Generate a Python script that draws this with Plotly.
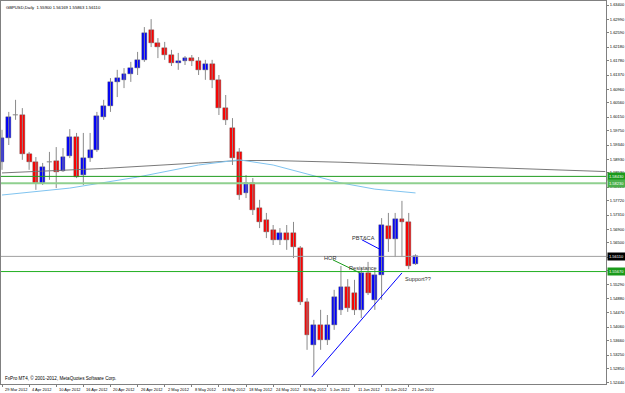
import plotly.graph_objects as go
import pandas as pd

# ---------------- data ----------------
dates = pd.bdate_range("2012-03-29", "2012-06-22")  # 62 daily bars

open_ = [1.5885, 1.5954, 1.6021, 1.6021, 1.5908, 1.5885, 1.5824, 1.5885, 1.5888, 1.5859,
         1.5902, 1.5957, 1.5847, 1.5896, 1.5920, 1.6015, 1.6047, 1.6117, 1.6123, 1.6140,
         1.6157, 1.6181, 1.6268, 1.6230, 1.6215, 1.6195, 1.6172, 1.6178, 1.6186, 1.6178,
         1.6152, 1.6169, 1.6123, 1.6041, 1.5983, 1.5914, 1.5795, 1.5824, 1.5751, 1.5717,
         1.5688, 1.5659, 1.5679, 1.5679, 1.5635, 1.5479, 1.5354, 1.5412, 1.5369, 1.5412,
         1.5456, 1.5522, 1.5505, 1.5456, 1.5563, 1.5485, 1.5557, 1.5699, 1.5661, 1.5719,
         1.5711, 1.55900]
high = [1.5978, 1.6030, 1.6065, 1.6041, 1.5914, 1.5899, 1.5882, 1.5914, 1.5928, 1.5925,
        1.5980, 1.5969, 1.5969, 1.5969, 1.6030, 1.6065, 1.6128, 1.6152, 1.6157, 1.6175,
        1.6204, 1.6276, 1.6299, 1.6244, 1.6233, 1.6210, 1.6201, 1.6192, 1.6195, 1.6189,
        1.6181, 1.6181, 1.6137, 1.6079, 1.6012, 1.5925, 1.5847, 1.5838, 1.5775, 1.5737,
        1.5702, 1.5693, 1.5702, 1.5711, 1.5641, 1.5490, 1.5427, 1.5456, 1.5441, 1.5514,
        1.5583, 1.5545, 1.5543, 1.5577, 1.5595, 1.5572, 1.5722, 1.5737, 1.5737, 1.5772,
        1.5737, 1.56169]
low = [1.5862, 1.5934, 1.6007, 1.5891, 1.5862, 1.5804, 1.5818, 1.5833, 1.5809, 1.5856,
       1.5896, 1.5838, 1.5818, 1.5885, 1.5914, 1.6007, 1.6030, 1.6073, 1.6099, 1.6117,
       1.6137, 1.6175, 1.6218, 1.6186, 1.6181, 1.6163, 1.6152, 1.6166, 1.6163, 1.6137,
       1.6123, 1.6099, 1.6021, 1.5992, 1.5876, 1.5775, 1.5780, 1.5731, 1.5693, 1.5664,
       1.5644, 1.5644, 1.5630, 1.5606, 1.5470, 1.5340, 1.5267, 1.5340, 1.5354, 1.5398,
       1.5441, 1.5450, 1.5441, 1.5432, 1.5499, 1.5456, 1.5485, 1.5624, 1.5609, 1.5609,
       1.5574, 1.55863]
close = [1.5954, 1.6015, 1.6022, 1.5908, 1.5885, 1.5824, 1.5870, 1.5886, 1.5856, 1.5899,
         1.5957, 1.5841, 1.5896, 1.5920, 1.6018, 1.6047, 1.6117, 1.6128, 1.6140, 1.6157,
         1.6181, 1.6259, 1.6230, 1.6218, 1.6195, 1.6172, 1.6178, 1.6186, 1.6178, 1.6152,
         1.6169, 1.6123, 1.6041, 1.6007, 1.5896, 1.5789, 1.5824, 1.5746, 1.5711, 1.5682,
         1.5659, 1.5679, 1.5659, 1.5638, 1.5479, 1.5383, 1.5412, 1.5369, 1.5412, 1.5493,
         1.5522, 1.5461, 1.5456, 1.5563, 1.5505, 1.5557, 1.5702, 1.5661, 1.5719, 1.5711,
         1.5583, 1.56110]

# moving averages (vertices, by bar number)
fast_ma_bars = [0, 10, 20, 29, 35, 40, 45, 50, 55, 61]
fast_ma = [1.5789, 1.5809, 1.5841, 1.5876, 1.5891, 1.5876, 1.5850, 1.5824, 1.5806, 1.5795]
slow_ma_bars = [0, 15, 29, 35, 40, 50, 61, 75, 89]
slow_ma = [1.5853, 1.5866, 1.5882, 1.5889, 1.5889, 1.5884, 1.5876, 1.5866, 1.5857]

# horizontal objects
level_upper = 1.5843
level_upper2 = 1.5823
level_support = 1.5567
bid_price = 1.56110

# right axis scale labels
price_ticks = ["1.52440", "1.52850", "1.53250", "1.53660", "1.54060", "1.54470", "1.54880",
               "1.55290", "1.55690", "1.56090", "1.56500", "1.56900", "1.57310", "1.57720",
               "1.58120", "1.58530", "1.58930", "1.59340", "1.59750", "1.60150", "1.60560",
               "1.60960", "1.61370", "1.61780", "1.62180", "1.62590", "1.62990", "1.63400"]

# drawn objects: (bar, price) pairs
trend_line = [(45.7, 1.5261), (59.0, 1.5563)]
pbt_line = [(53.1, 1.5659), (55.7, 1.5632)]
hor_line = [(48.8, 1.5601), (52.8, 1.5563)]
texts = [("PBT&CA", 51.3, 1.5664), ("HOR", 47.2, 1.5606),
         ("Resistance", 50.9, 1.5577), ("Support??", 59.1, 1.5545)]

title = "GBPUSD,Daily  1.55900 1.56169 1.55863 1.56110"
footer = "FxPro MT4, \u00a9 2001-2012, MetaQuotes Software Corp."

# ---------------- figure ----------------
FONT = "Liberation Sans"
idx = list(range(len(open_)))
fig = go.Figure()

# slow MA (dark grey) and fast MA (light blue)
fig.add_trace(go.Scatter(x=slow_ma_bars, y=slow_ma, mode="lines",
                         line=dict(color="#6a6a6a", width=0.9), hoverinfo="skip"))
fig.add_trace(go.Scatter(x=fast_ma_bars, y=fast_ma, mode="lines",
                         line=dict(color="#80c4f0", width=1), hoverinfo="skip"))

# wicks
wx, wy = [], []
for i, h, l in zip(idx, high, low):
    wx += [i, i, None]
    wy += [l, h, None]
fig.add_trace(go.Scatter(x=wx, y=wy, mode="lines", line=dict(color="#8a8a8a", width=1),
                         hoverinfo="skip"))

# bodies
base = [min(o, c) for o, c in zip(open_, close)]
height = [max(abs(c - o), 0.00006) for o, c in zip(open_, close)]
cols = ["#0000ff" if c > o else ("#ff0000" if c < o else "#202020")
        for o, c in zip(open_, close)]
fig.add_trace(go.Bar(x=idx, base=base, y=height, width=0.72,
                     marker=dict(color=cols, line=dict(color="#505050", width=0.4)),
                     hoverinfo="skip"))

shapes = []
for val, col, w in [(level_upper, "#1f9b1f", 1), (level_upper2, "#8fd08f", 2),
                    (level_support, "#22b022", 1), (bid_price, "#a0a0a0", 1)]:
    shapes.append(dict(type="line", xref="paper", x0=0, x1=1, y0=val, y1=val,
                       line=dict(color=col, width=w)))
for (p0, p1), col in [(trend_line, "#0000ff"), (pbt_line, "#0000ff"), (hor_line, "#1a9a1a")]:
    shapes.append(dict(type="line", x0=p0[0], y0=p0[1], x1=p1[0], y1=p1[1],
                       line=dict(color=col, width=1)))

ann = []
for t, x, y in texts:
    ann.append(dict(x=x, y=y, text=t, showarrow=False, xanchor="left", yanchor="middle",
                    font=dict(family=FONT, size=5.6, color="#303030")))
ann.append(dict(xref="paper", yref="paper", x=0, y=1, xshift=3, yshift=-2, text=title,
                showarrow=False, xanchor="left", yanchor="top",
                font=dict(family=FONT, size=4.2, color="#000000")))
ann.append(dict(xref="paper", yref="paper", x=0, y=0, xshift=2, yshift=1, text=footer,
                showarrow=False, xanchor="left", yanchor="bottom",
                font=dict(family=FONT, size=4.6, color="#000000")))
# date labels every 4 bars
label_bars = list(range(0, len(dates), 4))
for i in label_bars:
    d = dates[i]
    ann.append(dict(x=i, xref="x", yref="paper", y=0, yshift=-1, xshift=1,
                    text=f"{d.day} {d.strftime('%b %Y')}", showarrow=False,
                    xanchor="left", yanchor="top",
                    font=dict(family=FONT, size=4, color="#000000")))
# price boxes on right axis
for val, txt, bg in [(level_upper, "1.58430", "#1a9a1a"), (level_upper2, "1.58230", "#4cb04c"),
                     (bid_price, "1.56110", "#000000"), (level_support, "1.55670", "#1a9a1a")]:
    ann.append(dict(xref="paper", x=1, y=val, xshift=1, text=txt, showarrow=False,
                    xanchor="left", yanchor="middle", bgcolor=bg, borderpad=1,
                    font=dict(family=FONT, size=4, color="#ffffff")))

fig.update_layout(
    width=625, height=393,
    margin=dict(l=0, r=18, t=1, b=9),
    paper_bgcolor="white", plot_bgcolor="white",
    showlegend=False, barmode="overlay", bargap=0,
    shapes=shapes, annotations=ann,
    xaxis=dict(range=[-0.147, 89.1], showgrid=False, zeroline=False,
               tickvals=label_bars, ticks="outside", ticklen=2, tickcolor="#808080",
               showticklabels=False, showline=True, linecolor="#808080", mirror=True),
    yaxis=dict(range=[1.52409, 1.63516], side="right", showgrid=False, zeroline=False,
               tickvals=[float(t) for t in price_ticks], ticktext=price_ticks,
               ticks="outside", ticklen=2, tickcolor="#808080",
               tickfont=dict(family=FONT, size=4, color="#000000"),
               showline=True, linecolor="#808080", mirror=True),
)

fig.write_html("out.html")
